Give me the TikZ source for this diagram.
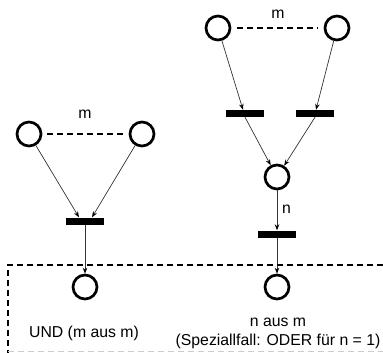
\documentclass[tikz,border=0pt]{standalone}
\usepackage{fontspec}
\setmainfont{Liberation Sans}
\usetikzlibrary{arrows.meta}
\begin{document}
\begin{tikzpicture}[x=1pt,y=-1pt,
  place/.style={circle,draw=black,line width=2.7pt,minimum size=24pt,inner sep=0pt},
  trans/.style={rectangle,fill=black,minimum width=38pt,minimum height=7pt,inner sep=0pt},
  arc/.style={draw=black!80,line width=0.7pt,-{Stealth[length=6pt,width=4.5pt,black]}},
  grp/.style={draw=black,line width=1.2pt,dash pattern=on 6pt off 4pt},
  lbl/.style={font=\fontsize{15.8}{19}\selectfont,inner sep=0pt}]
\useasboundingbox (0,0) rectangle (383,353);
% left group
\node[place] (l1) at (29,134) {};
\node[place] (l2) at (142,134) {};
\node[trans] (lt) at (85,221) {};
\node[place] (l3) at (85,287) {};
\node[lbl] (lm) at (85,114) {m};
\draw[grp,shorten <=5pt,shorten >=5pt] (l1) -- (l2);
\draw[arc] (l1) -- ([xshift=-6pt]lt.north);
\draw[arc] (l2) -- ([xshift=7pt]lt.north);
\draw[arc] (lt) -- (l3);
% right group
\node[place] (r1) at (218,28) {};
\node[place] (r2) at (337,28) {};
\node[lbl] (rm) at (278,14) {m};
\node[trans] (rt1) at (245,113.5) {};
\node[trans] (rt2) at (315,113.5) {};
\node[place] (r3) at (277,177) {};
\node[trans] (rt3) at (277,234) {};
\node[place] (r4) at (277,287) {};
\node[lbl,anchor=west] (rn) at (282,209) {n};
\draw[grp,shorten <=6pt,shorten >=6pt] (r1) -- (r2);
\draw[arc] (r1) -- ([xshift=-2pt]rt1.north);
\draw[arc] (r2) -- ([xshift=1pt]rt2.north);
\draw[arc] (rt1.south) -- (r3);
\draw[arc] (rt2.south) -- (r3);
\draw[arc] (r3) -- (rt3);
\draw[arc] (rt3) -- (r4);
% texts
\node[lbl] (und) at (84,333) {UND (m aus m)};
\node[lbl,align=center] (nm) at (278,333) {n aus m\\(Speziallfall: ODER für n = 1)};
% dashed frame
\coordinate (f1) at (383,265);
\coordinate (f2) at (8,265);
\coordinate (f3) at (8,353);
\draw[grp] (f1) -- (f2) -- (f3);
\coordinate (g1) at (8,351.5);
\coordinate (g2) at (383,351.5);
\draw[draw=black!20,line width=1pt,dash pattern=on 6pt off 4pt] (g1) -- (g2);
\end{tikzpicture}
\end{document}
